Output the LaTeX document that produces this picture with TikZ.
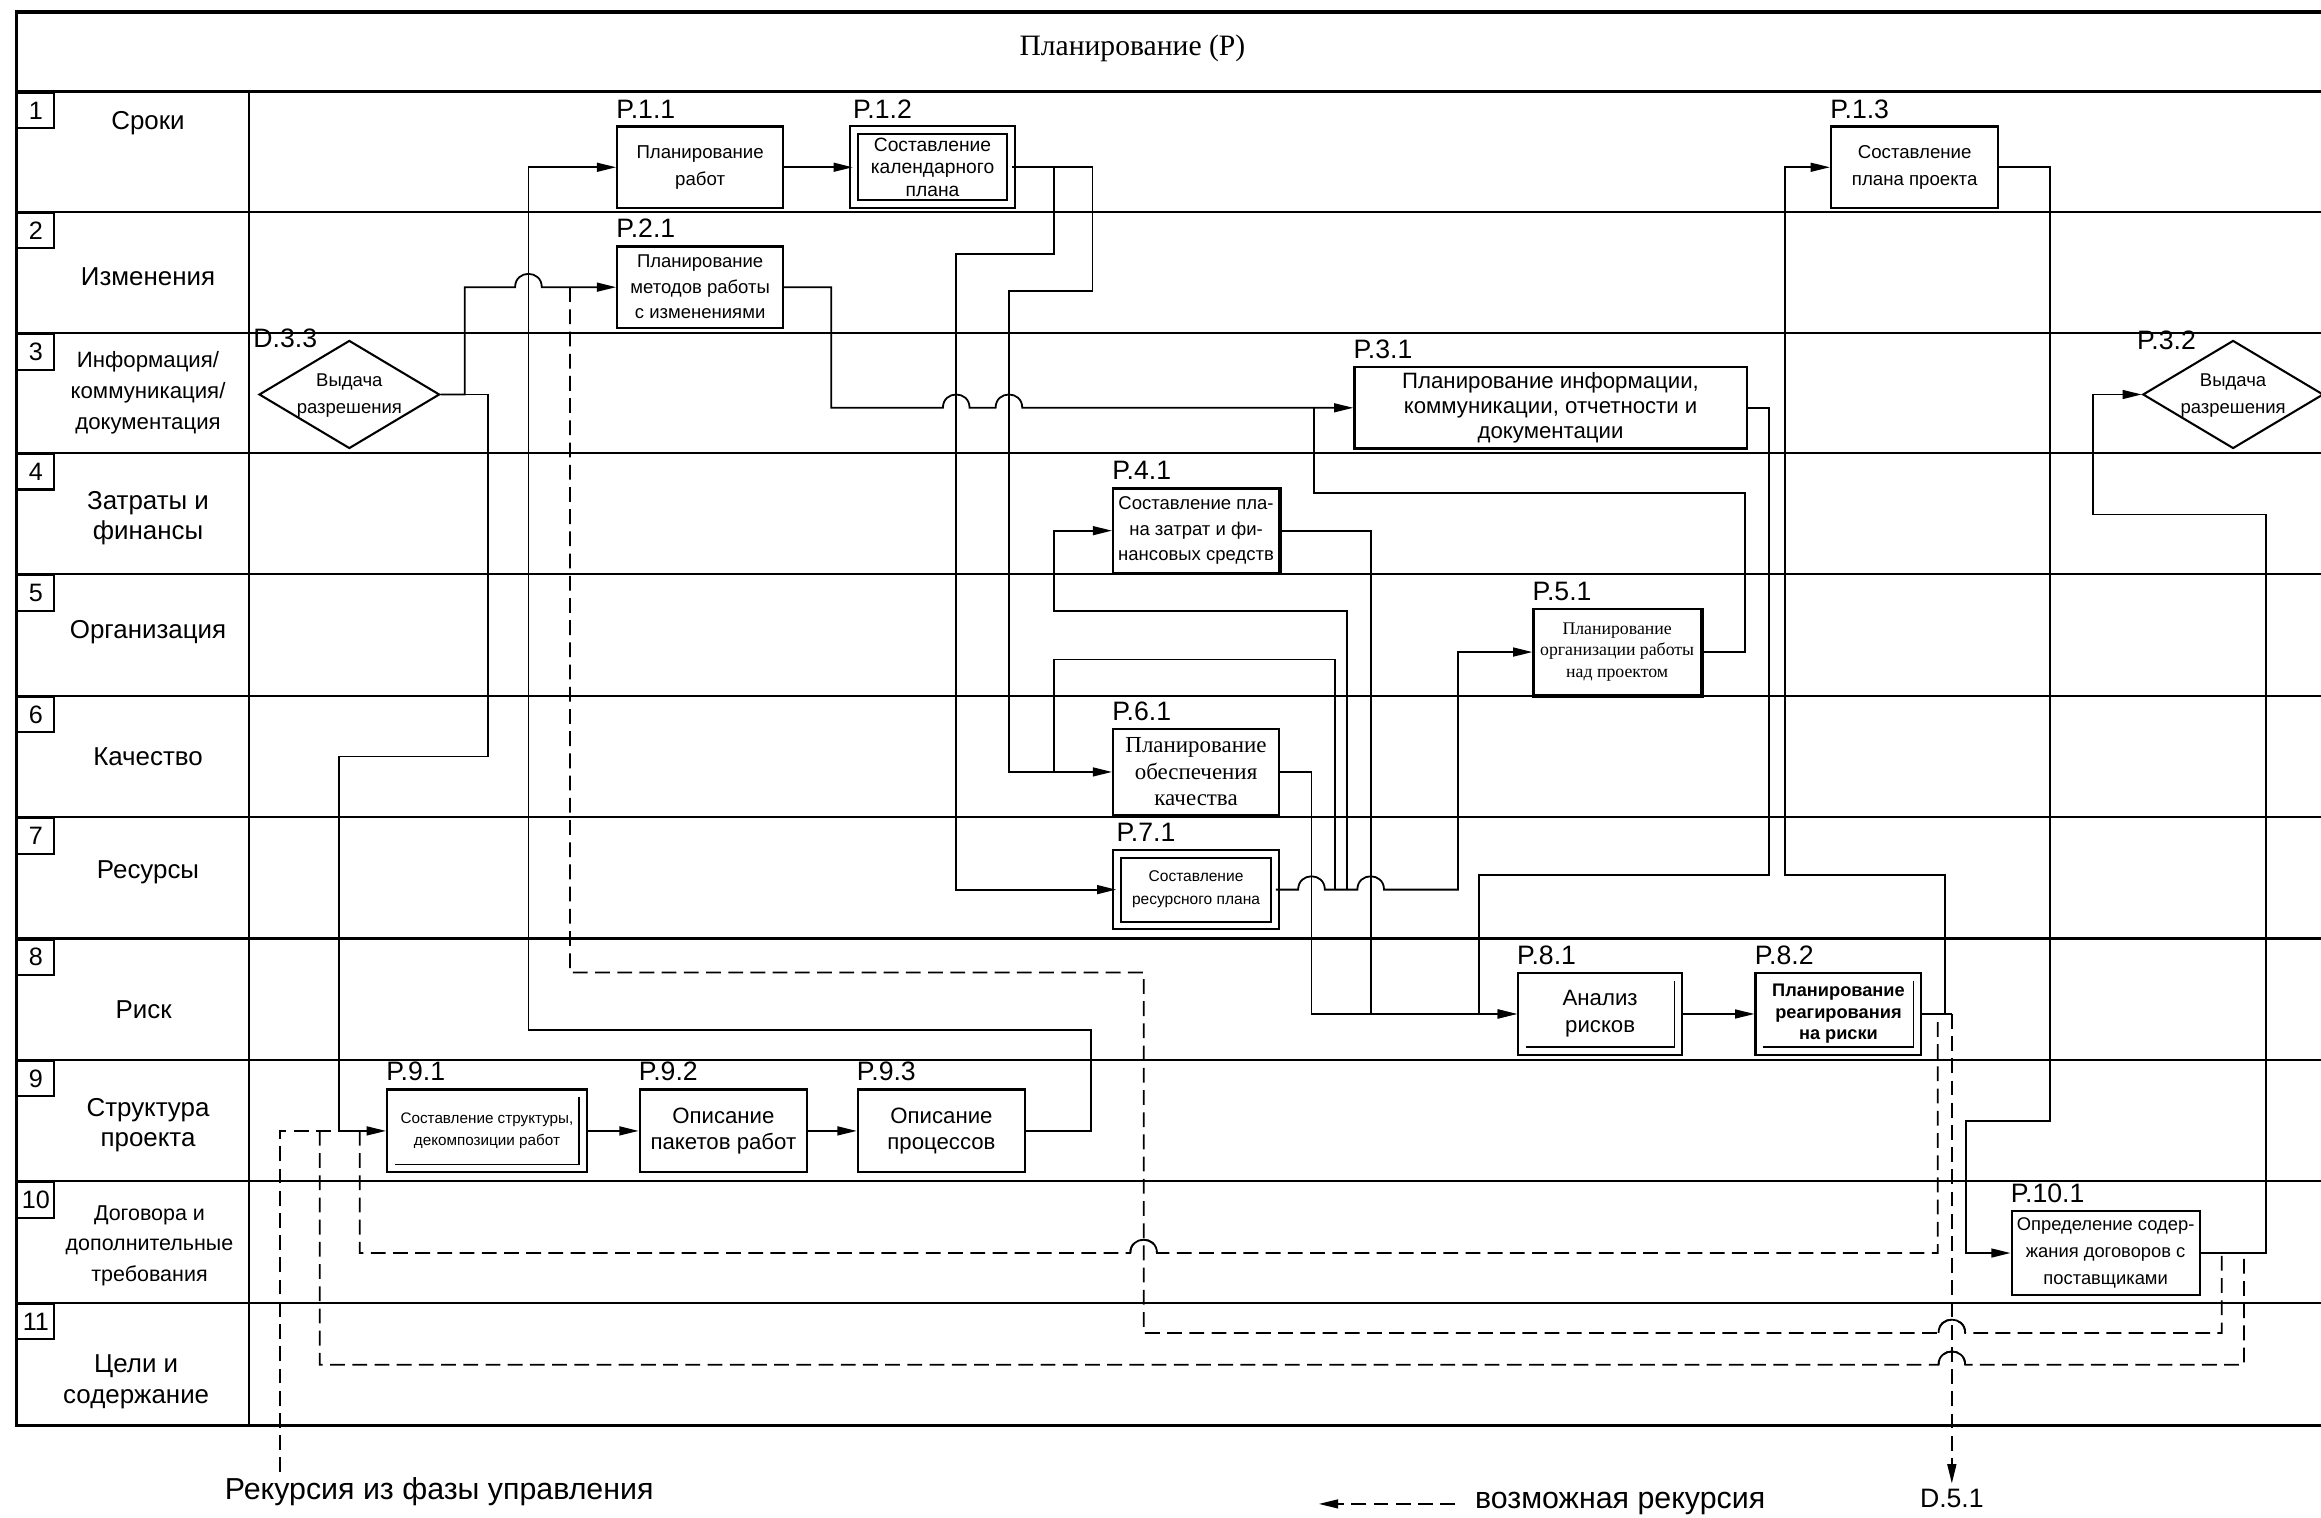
\documentclass[tikz,border=0pt]{standalone}
\usepackage{fontspec}
\setmainfont{Liberation Sans}
\newfontfamily\seriffont{Liberation Serif}
\usetikzlibrary{arrows.meta,shapes.geometric}

% small bump where a line jumps over another one
\newcommand{\jumpover}[2]{-- (#1-9,#2) .. controls (#1-9,#2-12) and (#1+9,#2-12) .. (#1+9,#2)}

\tikzset{
  frame/.style={line width=2.3pt},
  grid/.style={line width=1.4pt},
  wire/.style={line width=1.2pt},
  arr/.style={wire, -{Triangle[length=13pt,width=6pt]}},
  recur/.style={wire, dash pattern=on 10pt off 5pt},
  proc/.style={draw, line width=1.5pt, fill=white, align=center, inner sep=2pt,
    minimum width=112pt, minimum height=55pt, font=\fontsize{12.6}{18}\selectfont},
  twin/.style={double, double distance=4pt, line width=1.3pt},
  decide/.style={draw, diamond, line width=1.4pt, fill=white, inner sep=0pt,
    minimum width=122pt, minimum height=73pt},
  plabel/.style={font=\fontsize{18}{20}\selectfont, inner sep=0pt, anchor=base west, yshift=5pt},
  rowname/.style={align=center, font=\fontsize{17.5}{21}\selectfont},
  rownum/.style={draw, line width=1.4pt, fill=white, minimum width=25pt, minimum height=24pt,
    inner sep=0pt, anchor=north west, font=\fontsize{17}{17}\selectfont},
  note/.style={font=\fontsize{20.5}{24}\selectfont},
}

\begin{document}
\begin{tikzpicture}[x=1pt, y=-1pt]
    \useasboundingbox (0,0) rectangle (1568,1025.5);

    % table frame
    \draw [frame] (1575,8) -- (11,8) -- (11,963) -- (1575,963);
    \draw [frame] (11,62) -- (1575,62);
    \foreach \y in {143,225,306,388,470,552,634,716,798,880}
        \draw [grid] (11,\y) -- (1575,\y);
    \draw [grid] (168,62) -- (168,963);
    \node[font=\seriffont\fontsize{20}{24}\selectfont] (title) at (765,33) {Планирование (Р)};

    % row numbers
    \foreach \n/\y in {1/62,2/143,3/225,4/306,5/388,6/470,7/552,8/634,9/716,10/798,11/880}
        \node[rownum] (num\n) at (11,\y) {\n};

    % row names
    \node[rowname] (row1) at (100,83) {Сроки};
    \node[rowname] (row2) at (100,187) {Изменения};
    \node[rowname, font=\fontsize{15}{21}\selectfont] (row3) at (100,265.5) {Информация/\\коммуникация/\\документация};
    \node[rowname, font=\fontsize{17.5}{20}\selectfont] (row4) at (100,350) {Затраты и\\финансы};
    \node[rowname] (row5) at (100,427) {Организация};
    \node[rowname] (row6) at (100,511) {Качество};
    \node[rowname] (row7) at (100,589) {Ресурсы};
    \node[rowname] (row8) at (97,682) {Риск};
    \node[rowname, font=\fontsize{17.5}{20}\selectfont] (row9) at (100,760) {Структура\\проекта};
    \node[rowname, font=\fontsize{14.5}{20.5}\selectfont] (row10) at (101,841.5) {Договора и\\дополнительные\\требования};
    \node[rowname] (row11) at (92,933.5) {Цели и\\содержание};

    % dashed recursion lines
    \draw [recur] (385,194) -- (385,657) -- (772.6,657) -- (772.6,900.5) \jumpover{1318.6}{900.5} -- (1501,900.5) -- (1501,846.5);
    \draw [recur] (216,764) -- (216,922) \jumpover{1318.6}{922} -- (1516,922) -- (1516,846.5);
    \draw [recur] (243,764) -- (243,846.5) \jumpover{772.6}{846.5} -- (1309,846.5) -- (1309,685);
    % the bumps stay solid
    \draw [wire] (1309.6,900.5) \jumpover{1318.6}{900.5};
    \draw [wire] (1309.6,922) \jumpover{1318.6}{922};
    \draw [wire] (763.6,846.5) \jumpover{772.6}{846.5};

    % process boxes
    \node[proc, label={[plabel]north west:P.1.1}] (p11) at (473,113) {Планирование\\работ};
    \node[proc, twin, minimum width=106.5pt, minimum height=50pt, inner sep=0pt,
          font=\fontsize{13}{15}\selectfont, label={[plabel, yshift=2.5pt]north west:P.1.2}] (p12) at (630,113) {Составление\\календарного\\плана};
    \node[proc, minimum width=113pt, label={[plabel]north west:P.1.3}] (p13) at (1293.5,113) {Составление\\плана проекта};
    \node[proc, font=\fontsize{12.5}{17.2}\selectfont, label={[plabel]north west:P.2.1}] (p21) at (473,194) {Планирование\\методов работы\\с изменениями};
    \node[proc, minimum width=265pt, font=\fontsize{15}{17}\selectfont, label={[plabel]north west:P.3.1}] (p31) at (1047.5,275.5) {Планирование информации,\\коммуникации, отчетности и\\документации};
    \node[proc, minimum height=57pt, font=\fontsize{12.5}{17.4}\selectfont, label={[plabel]north west:P.4.1}] (p41) at (808,358.5) {Составление пла-\\на затрат и фи-\\нансовых средств};
    \node[proc, minimum width=113pt, minimum height=58pt, font=\seriffont\fontsize{12}{14.5}\selectfont, label={[plabel]north west:P.5.1}] (p51) at (1092.5,440.5) {Планирование\\организации работы\\над проектом};
    \node[proc, minimum height=58pt, font=\seriffont\fontsize{15.5}{18}\selectfont, label={[plabel]north west:P.6.1}] (p61) at (808,521.5) {Планирование\\обеспечения\\качества};
    \node[proc, twin, minimum width=106.5pt, minimum height=48.5pt, font=\fontsize{10.5}{15.6}\selectfont, label={[plabel, yshift=2.5pt]north west:P.7.1}] (p71) at (808,601) {Составление\\ресурсного плана};
    \node[proc, minimum width=111pt, font=\fontsize{15}{18}\selectfont, label={[plabel]north west:P.8.1}] (p81) at (1081,685) {Анализ\\рисков};
    \node[proc, font=\bfseries\fontsize{12.3}{14.6}\selectfont, label={[plabel]north west:P.8.2}] (p82) at (1242,685) {Планирование\\реагирования\\на риски};
    \node[proc, minimum width=135pt, minimum height=56pt, font=\fontsize{10.3}{14.5}\selectfont, label={[plabel]north west:P.9.1}] (p91) at (329,764) {Составление структуры,\\декомпозиции работ};
    \node[proc, minimum width=113pt, minimum height=56pt, font=\fontsize{15}{18}\selectfont, label={[plabel]north west:P.9.2}] (p92) at (488.7,764) {Описание\\пакетов работ};
    \node[proc, minimum width=113pt, minimum height=56pt, font=\fontsize{15}{18}\selectfont, label={[plabel]north west:P.9.3}] (p93) at (636,764) {Описание\\процессов};
    \node[proc, minimum width=127pt, minimum height=56.5pt, font=\fontsize{12.4}{18}\selectfont, label={[plabel]north west:P.10.1}] (p101) at (1422.5,846.5) {Определение содер-\\жания договоров с\\поставщиками};

    % inner edges and shadows of some boxes
    \draw [line width=0.9pt] ([xshift=-6pt,yshift=-6pt]p81.north east) |- ([xshift=6pt,yshift=6pt]p81.south west);
    \draw [line width=0.9pt] ([xshift=-6pt,yshift=-6pt]p82.north east) |- ([xshift=6pt,yshift=6pt]p82.south west);
    \draw [line width=0.9pt] ([xshift=-6pt,yshift=-6pt]p91.north east) |- ([xshift=6pt,yshift=6pt]p91.south west);
    \draw [line width=2.6pt] (p41.north east) -- (p41.south east);
    \draw [line width=2.6pt] (p51.north east) |- (p51.south west);

    % decisions
    \node[decide, label={center:\fontsize{12.5}{18}\selectfont\begin{tabular}{@{}c@{}}Выдача\\разрешения\end{tabular}}] (d33) at (236,266.5) {};
    \node[plabel] at (171,240) {D.3.3};
    \node[decide, label={center:\fontsize{12.5}{18}\selectfont\begin{tabular}{@{}c@{}}Выдача\\разрешения\end{tabular}}] (p32) at (1508.6,266.5) {};
    \node[plabel] at (1443.5,241) {P.3.2};

    % solid connections
    \draw [arr] (d33.east) -- (314,266.5) -- (314,194) \jumpover{357}{194} -- (p21.west);
    \draw [arr] (d33.east) -- (329.5,266.5) -- (329.5,511) -- (229,511) |- (p91.west);
    \draw [arr] (p93.east) -- (737,764) -- (737,696) -- (357,696) |- (p11.west);
    \draw [arr] (p11.east) -- (p12.west);
    \draw [arr] (p12.east) -- (712,113) -- (712,171.7) -- (646,171.7) |- (p71.west);
    \draw [arr] (p12.east) -- (738,113) -- (738,196.7) -- (681.6,196.7) |- (p61.west);
    \draw [arr] (p21.east) -- (561.5,194) -- (561.5,275.5) \jumpover{646}{275.5} \jumpover{681.6}{275.5} -- (p31.west);
    \draw [wire] (887.5,275.5) -- (887.5,333) -- (1179,333) |- (p51.east);
    \draw [arr] (p31.east) -- (1195,275.5) -- (1195,591) -- (999,591) |- (p81.west);
    \draw [arr] (p82.east) -- (1314,685) -- (1314,591) -- (1206,591) |- (p13.west);
    \draw [wire] (p82.east) -- (1318.6,685);
    \draw [arr] (p13.east) -- (1385,113) -- (1385,757.5) -- (1328,757.5) |- (p101.west);
    \draw [arr] (p101.east) -- (1531,846.5) -- (1531,347.5) -- (1414,347.5) |- (p32.west);
    \draw [arr] (p81.east) -- (p82.west);
    \draw [arr] (p91.east) -- (p92.west);
    \draw [arr] (p92.east) -- (p93.west);
    \draw [wire] (p41.east) -- (926,358.5) -- (926,685);
    \draw [arr] (p61.east) -- (886,521.5) -- (886,685) -- (p81.west);
    \draw [arr] (p71.east) \jumpover{886}{601} -- (910,601) \jumpover{926}{601} -- (985,601) |- (p51.west);
    \draw [arr] (910,601) -- (910,413) -- (712,413) |- (p41.west);
    \draw [wire] (902,601) -- (902,445.5) -- (712,445.5) -- (712,521.5);

    % exits and legend
    \node[font=\fontsize{18}{20}\selectfont] (d51) at (1318.6,1012) {D.5.1};
    \draw [arr, recur] (1318.6,685) -- (d51.north);
    \node[note] (recsrc) at (296.7,1007.6) {Рекурсия из фазы управления};
    \draw [recur] (189,0 |- recsrc.north) -- (189,764) -- (229,764);
    \node[note, anchor=west] (legtxt) at (993,1016) {возможная рекурсия};
    \coordinate (legtip) at (891,1016);
    \draw [arr, recur] ([xshift=-10pt]legtxt.west) -- (legtip);
\end{tikzpicture}
\end{document}
